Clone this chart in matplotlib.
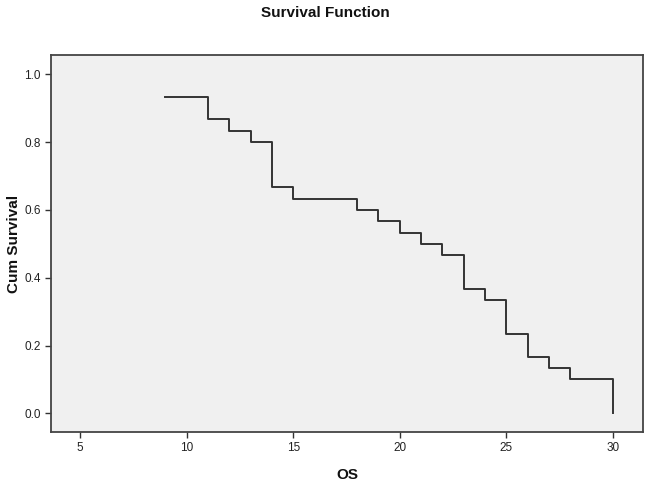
import matplotlib
matplotlib.use("Agg")
import matplotlib.pyplot as plt

times = [9, 11, 12, 13, 14, 15, 18, 19, 20, 21, 22, 23, 24, 25, 26, 27, 28, 30]
survival = [0.933, 0.867, 0.833, 0.800, 0.667, 0.633, 0.600, 0.567, 0.533,
            0.500, 0.467, 0.367, 0.333, 0.233, 0.167, 0.133, 0.100, 0.000]
xticks = [5, 10, 15, 20, 25, 30]
yticks = [0.0, 0.2, 0.4, 0.6, 0.8, 1.0]

plt.rcParams['font.family'] = ['Liberation Sans', 'DejaVu Sans']

fig = plt.figure(figsize=(6.5, 4.84), dpi=100)
ax = fig.add_axes([0.0785, 0.1074, 0.9105, 0.779])
ax.set_facecolor('#f0f0f0')
ax.step(times, survival, where='post', color='#333333', lw=1.4)

ax.set_xlim(3.64, 31.4)
ax.set_ylim(-0.055, 1.057)
ax.set_xticks(xticks)
ax.set_xticklabels([str(t) for t in xticks])
ax.set_yticks(yticks)
ax.set_yticklabels([f"{t:.1f}" for t in yticks])
ax.tick_params(direction='out', length=4, width=1, colors='#333333', labelsize=8.5,
               labelcolor='#222222')
for s in ax.spines.values():
    s.set_color('#444444')
    s.set_linewidth(1.3)

fig.text(0.5, 0.974, 'Survival Function', ha='center', va='center',
         fontsize=11, fontweight='bold', color='#111111')
ax.set_xlabel('OS', fontsize=11, fontweight='bold', labelpad=10, color='#111111')
ax.set_ylabel('Cum Survival', fontsize=11, fontweight='bold', color='#111111')
ax.yaxis.set_label_coords(-0.062, 0.5)
ax.yaxis.label.set_va('center')

fig.savefig('out.png', dpi=100)
